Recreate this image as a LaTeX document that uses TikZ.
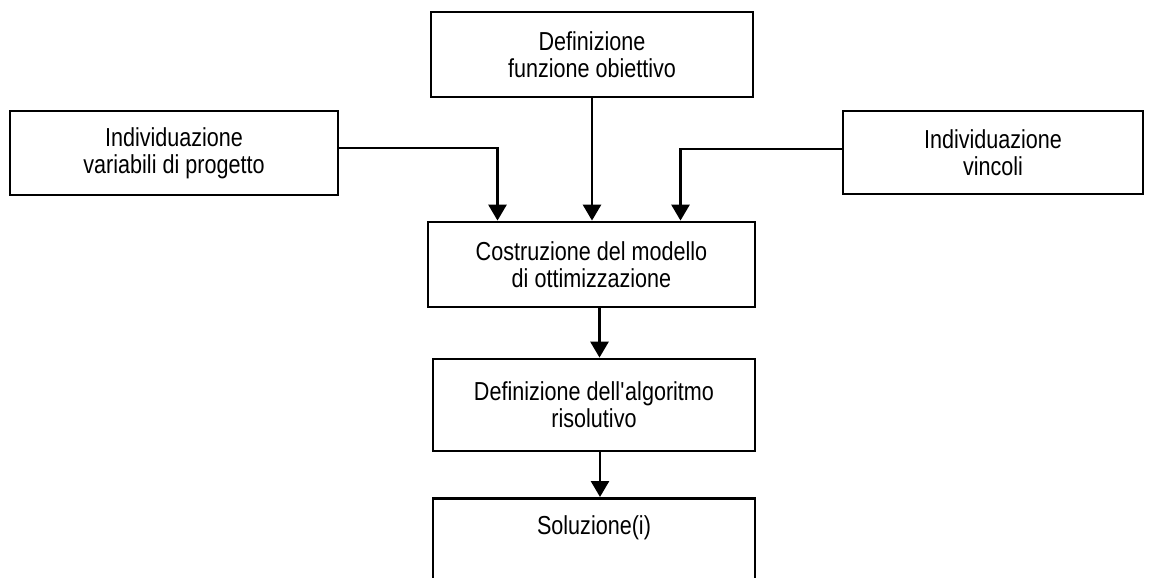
\documentclass[tikz,border=0pt]{standalone}
\usepackage{fontspec}
\setmainfont{Liberation Sans}[FakeStretch=0.83]
\usetikzlibrary{arrows.meta}
\begin{document}
\begin{tikzpicture}[x=1pt,y=1pt,
  box/.style={draw, line width=2.8pt, align=center, inner sep=0pt,
    font=\fontsize{26}{27}\selectfont},
  arr/.style={line width=2.8pt, -{Triangle[width=18pt,length=16pt]}}]
\useasboundingbox (0,0) rectangle (1152,-578);
\begin{scope}
\clip (0,0) rectangle (1152,-578);
% boxes
\node[box, minimum width=322, minimum height=85] (obj) at (592,-54.5)
  {Definizione\\funzione obiettivo};
\node[box, minimum width=328, minimum height=84] (vars) at (174,-153)
  {Individuazione\\variabili di progetto};
\node[box, minimum width=300, minimum height=83] (vinc) at (993,-152.5)
  {Individuazione\\vincoli};
\node[box, minimum width=327, minimum height=85] (costr) at (591.5,-264.5)
  {Costruzione del modello\\di ottimizzazione};
\node[box, minimum width=322, minimum height=92] (alg) at (594,-405)
  {Definizione dell\textquotesingle algoritmo\\risolutivo};
\node[box, minimum width=322, minimum height=130, anchor=north] (sol) at (594,-497) {};
\node[font=\fontsize{26}{27}\selectfont, inner sep=0pt] (soltxt) at ([yshift=-31]sol.north) {Soluzione(i)};
% connectors
\draw[arr] ([yshift=5]vars.east) -| ([xshift=-94]costr.north);
\draw[arr] (obj.south) -- (obj.south |- costr.north);
\draw[arr] ([yshift=3.5]vinc.west) -| ([xshift=89]costr.north);
\draw[arr] ([xshift=8]costr.south) -- ([xshift=8]costr.south |- alg.north);
\draw[arr] ([xshift=6]alg.south) -- ([xshift=6]alg.south |- sol.north);
\end{scope}
\end{tikzpicture}
\end{document}
